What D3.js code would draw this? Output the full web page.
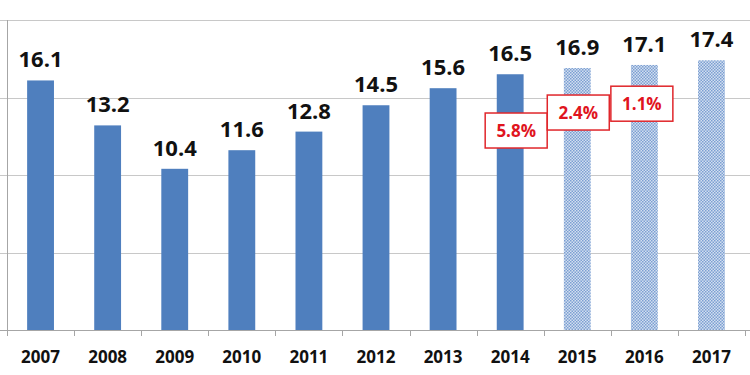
<!DOCTYPE html>
<html><head><meta charset="utf-8">
<script src="https://cdn.jsdelivr.net/npm/d3@7"></script>
<style>html,body{margin:0;padding:0;background:#fff;}svg{display:block;}</style>
</head><body>
<svg id="chart" width="750" height="375"></svg>
<script>
const years = ["2007","2008","2009","2010","2011","2012","2013","2014","2015","2016","2017"];
const values = [16.1, 13.2, 10.4, 11.6, 12.8, 14.5, 15.6, 16.5, 16.9, 17.1, 17.4];
const forecast = [false,false,false,false,false,false,false,false,true,true,true];
const yTicks = [0, 5, 10, 15, 20];
const growthYears = ["2014","2015","2016"];
const growthLabels = ["5.8%","2.4%","1.1%"];
const growthLevels = [12.87, 14.03, 14.6];

(function(){
const svg = d3.select("#chart");
const mLeft = 7, mRight = 745, mTop = 20, mBottom = 330;
const x = d3.scaleBand().domain(years).range([mLeft, mRight]).paddingInner(0.6).paddingOuter(0.3);
const xb = d3.scaleBand().domain(years).range([mLeft, mRight]);
const y = d3.scaleLinear().domain([0, 20]).range([mBottom, mTop]);

const defs = svg.append("defs");
const pat = defs.append("pattern").attr("id","hatch").attr("patternUnits","userSpaceOnUse")
  .attr("width",3).attr("height",3);
pat.append("rect").attr("width",3).attr("height",3).attr("fill","#d3dff0");
pat.append("rect").attr("width",1.5).attr("height",1.5).attr("fill","#7c9fd2");
pat.append("rect").attr("x",1.5).attr("y",1.5).attr("width",1.5).attr("height",1.5).attr("fill","#7c9fd2");

// gridlines
svg.append("g").selectAll("line").data(yTicks).join("line")
  .attr("x1",0).attr("x2",750).attr("y1",d=>Math.round(y(d))+0.5).attr("y2",d=>Math.round(y(d))+0.5)
  .attr("stroke",d=>d===0?"#a6a6a6":"#c8c8c8").attr("stroke-width",1);
// left axis line
svg.append("line").attr("x1",mLeft+0.5).attr("x2",mLeft+0.5).attr("y1",mTop).attr("y2",mBottom+0.5)
  .attr("stroke","#a6a6a6");
// bottom ticks
const bounds = years.map(d=>xb(d)).concat([mRight]);
svg.append("g").selectAll("line").data(bounds).join("line")
  .attr("x1",d=>Math.round(d)+0.5).attr("x2",d=>Math.round(d)+0.5)
  .attr("y1",mBottom).attr("y2",mBottom+6).attr("stroke","#a6a6a6");

// bars
svg.append("g").selectAll("rect").data(years).join("rect")
  .attr("x",d=>x(d)).attr("width",x.bandwidth())
  .attr("y",(d,i)=>y(values[i])).attr("height",(d,i)=>y(0)-y(values[i]))
  .attr("fill",(d,i)=>forecast[i]?"url(#hatch)":"#4f7fbe");

const font = "'Open Sans', 'DejaVu Sans', sans-serif";
// value labels
svg.append("g").selectAll("text").data(years).join("text")
  .attr("x",d=>x(d)+x.bandwidth()/2).attr("y",(d,i)=>y(values[i])-13)
  .attr("text-anchor","middle").attr("font-family",font).attr("font-weight","bold")
  .attr("font-size",22).attr("fill","#111")
  .text((d,i)=>values[i].toFixed(1));
// year labels
svg.append("g").selectAll("text").data(years).join("text")
  .attr("x",d=>x(d)+x.bandwidth()/2).attr("y",363)
  .attr("text-anchor","middle").attr("font-family",font).attr("font-weight","bold")
  .attr("font-size",17).attr("fill","#111").text(d=>d);

// growth boxes
const offsets = [6, 1, -2.5];
const g = svg.append("g").selectAll("g").data(growthYears).join("g")
  .attr("transform",(d,i)=>`translate(${xb(d)+xb.bandwidth()/2+offsets[i]},${y(growthLevels[i])})`);
g.append("rect").attr("x",-31).attr("y",-17.5).attr("width",62).attr("height",35)
  .attr("fill","#fff").attr("stroke","#e0262b").attr("stroke-width",1.5);
g.append("text").attr("text-anchor","middle").attr("dy","0.36em")
  .attr("font-family",font).attr("font-weight","bold").attr("font-size",17)
  .attr("fill","#e0141e").text((d,i)=>growthLabels[i]);
})();
</script>
</body></html>
